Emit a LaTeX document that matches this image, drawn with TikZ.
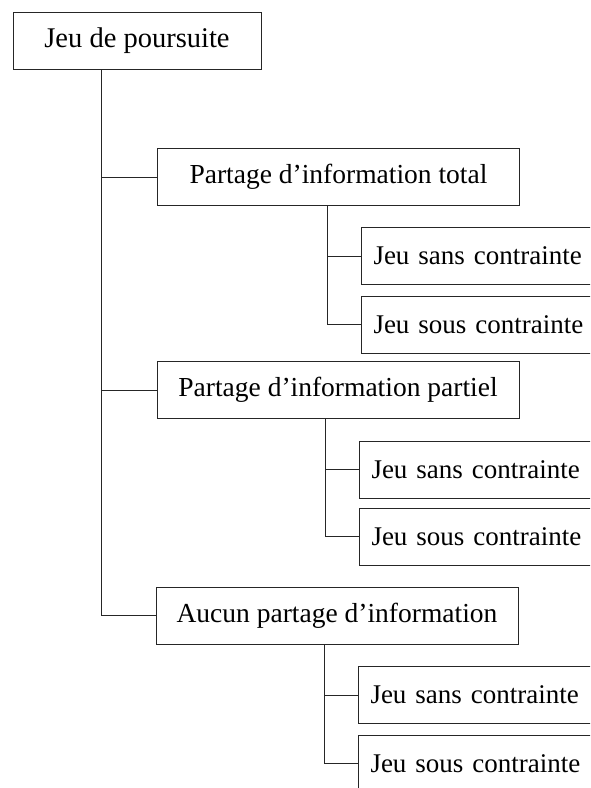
\documentclass[tikz,border=0pt]{standalone}
\usepackage{fontspec}
\setmainfont{Liberation Serif}
\usepackage{tikz}
\usetikzlibrary{positioning, calc}

\begin{document}
\begin{tikzpicture}[x=1pt, y=-1pt,
    every node/.style={font=\fontsize{27.5}{33}\selectfont},
    rootbox/.style={draw=black!85, line width=1pt, minimum width=248pt, minimum height=57pt, inner sep=0pt, font=\fontsize{28.5}{34}\selectfont},
    modebox/.style={draw=black!85, line width=1pt, minimum width=362pt, minimum height=57pt, inner sep=0pt},
    leafbox/.style={draw=black!85, line width=1pt, text width=236pt, align=left, inner xsep=12pt, minimum height=57pt, anchor=west, font=\fontsize{27}{32}\selectfont},
    link/.style={draw=black!85, line width=1pt}]
                    \useasboundingbox (0,0) rectangle (590,788);
                    \clip (0,0) rectangle (590,788);
                    % racine
                    \node[rootbox] (root) at (137,40.5) {Jeu de poursuite};
                    % niveau 1
                    \node[modebox] (total) at (338.5,177) {Partage d'information total};
                    \node[modebox] (partiel) at (338,390) {Partage d'information partiel};
                    \node[modebox] (aucun) at (337,615.5) {Aucun partage d'information};
                    % feuilles
                    \node[leafbox] (totalsans) at (361,256) {Jeu sans contrainte};
                    \node[leafbox] (totalsous) at (361,324.5) {Jeu sous contrainte};
                    \node[leafbox] (partielsans) at (359,469.5) {Jeu sans contrainte};
                    \node[leafbox] (partielsous) at (359,536.5) {Jeu sous contrainte};
                    \node[leafbox] (aucunsans) at (358,695) {Jeu sans contrainte};
                    \node[leafbox] (aucunsous) at (358,763.5) {Jeu sous contrainte};
                    % tronc principal
                    \coordinate (trunk) at ([xshift=89pt]root.south west);
                    \draw[link] (trunk) |- (aucun.west);
                    \draw[link] (trunk |- total.west) -- (total.west);
                    \draw[link] (trunk |- partiel.west) -- (partiel.west);
                    % branches
                    \coordinate (ttotal) at ([xshift=170pt]total.south west);
                    \draw[link] (ttotal) |- (totalsous.west);
                    \draw[link] (ttotal |- totalsans.west) -- (totalsans.west);
                    \coordinate (tpartiel) at ([xshift=169pt]partiel.south west);
                    \draw[link] (tpartiel) |- (partielsous.west);
                    \draw[link] (tpartiel |- partielsans.west) -- (partielsans.west);
                    \coordinate (taucun) at ([xshift=169pt]aucun.south west);
                    \draw[link] (taucun) |- (aucunsous.west);
                    \draw[link] (taucun |- aucunsans.west) -- (aucunsans.west);
                  \end{tikzpicture}
\end{document}
